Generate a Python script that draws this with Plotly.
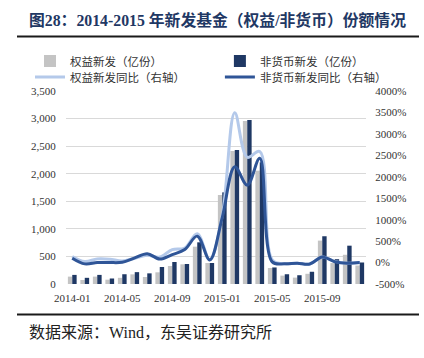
import plotly.graph_objects as go

months = ["2014-01","2014-02","2014-03","2014-04","2014-05","2014-06","2014-07","2014-08",
          "2014-09","2014-10","2014-11","2014-12","2015-01","2015-02","2015-03","2015-04",
          "2015-05","2015-06","2015-07","2015-08","2015-09","2015-10","2015-11","2015-12"]
tick_labels = ["2014-01","2014-05","2014-09","2015-01","2015-05","2015-09"]

equity_new = [134, 73, 134, 78, 112, 175, 127, 212, 326, 357, 677, 381,
              1614, 2412, 2956, 2055, 290, 152, 116, 185, 787, 380, 530, 335]
nonmoney_new = [165, 112, 165, 100, 177, 215, 193, 308, 399, 363, 756, 381,
                1662, 2430, 2974, 2206, 300, 177, 159, 222, 866, 450, 695, 390]
equity_yoy = [141, 24, 86, 79, 39, 102, 170, 128, 302, 340, 671, 66,
              1100, 3493, 2455, 2590, 60, -30, -15, -35, 130, 27, -15, 0]
nonmoney_yoy = [102, -31, 0, 0, 8, 110, 207, 81, 184, 302, 616, 60,
                1050, 2236, 1804, 2432, 15, -30, -15, -35, 130, 20, -15, 0]

left_ticks = [0, 500, 1000, 1500, 2000, 2500, 3000, 3500]
right_ticks = [-500, 0, 500, 1000, 1500, 2000, 2500, 3000, 3500, 4000]
right_text = [f"{v}%" for v in right_ticks]

CJK = "Noto Sans CJK SC"
SERIF = "Liberation Serif"
LEG_FONT = dict(family=f"{SERIF}, {CJK}", size=11.5, color="#333333")

fig = go.Figure()
fig.add_trace(go.Bar(x=months, y=equity_new, name="权益新发（亿份）", showlegend=True,
                     marker=dict(color="#C4C4C4", line=dict(width=0)), legend="legend"))
fig.add_trace(go.Bar(x=months, y=nonmoney_new, name="非货币新发（亿份）", showlegend=True,
                     marker=dict(color="#1F3864", line=dict(width=0)), legend="legend2"))
fig.add_trace(go.Scatter(x=months, y=equity_yoy, name="权益新发同比（右轴）", yaxis="y2", showlegend=True,
                         mode="lines", line=dict(color="#B4C9EA", width=3, shape="spline", smoothing=1),
                         legend="legend3"))
fig.add_trace(go.Scatter(x=months, y=nonmoney_yoy, name="非货币新发同比（右轴）", yaxis="y2", showlegend=True,
                         mode="lines", line=dict(color="#2F5597", width=3, shape="spline", smoothing=1),
                         legend="legend4"))

def leg(x, y):
    return dict(x=x, y=y, xanchor="left", yanchor="middle", orientation="h",
                font=LEG_FONT, bgcolor="rgba(0,0,0,0)", borderwidth=0, visible=True)

def py(pix):
    return (284 - pix) / 193

def px(pix):
    return (pix - 66) / 300

fig.update_layout(
    width=424, height=358,
    showlegend=True,
    margin=dict(l=66, r=58, t=91, b=74, autoexpand=False),
    paper_bgcolor="white", plot_bgcolor="white",
    barmode="group", bargap=0.3, bargroupgap=0,
    legend=leg(-0.12, py(61)),
    legend2=leg(0.513, py(61)),
    legend3=leg(-0.12, py(77)),
    legend4=leg(0.513, py(77)),
    xaxis=dict(type="category", tickmode="array", tickvals=tick_labels, ticktext=tick_labels,
               showgrid=False, showline=False, ticks="outside", ticklen=4, tickcolor="rgba(0,0,0,0)",
               tickfont=dict(family=SERIF, size=11, color="#333333")),
    yaxis=dict(range=[0, 3500], tickvals=left_ticks, tickformat=",", showgrid=True,
               gridcolor="#D9D9D9", gridwidth=1, zeroline=False, showline=False,
               ticks="outside", ticklen=7, tickcolor="rgba(0,0,0,0)",
               tickfont=dict(family=SERIF, size=11, color="#333333")),
    yaxis2=dict(range=[-500, 4000], tickmode="array", tickvals=right_ticks, ticktext=right_text,
                overlaying="y", side="right", showgrid=False, zeroline=False, showline=False,
                ticks="outside", ticklen=6, tickcolor="rgba(0,0,0,0)",
                tickfont=dict(family=SERIF, size=11, color="#333333")),
    annotations=[
        dict(text="<b>图28：2014-2015 年新发基金（权益/非货币）份额情况</b>",
             xref="paper", yref="paper", x=px(27), y=py(20),
             xanchor="left", yanchor="middle", showarrow=False,
             font=dict(family=f"{SERIF}, {CJK}", size=15.8, color="#1F3864")),
        # rule under the title, drawn as a thin filled annotation box
        dict(text=" ", xref="paper", yref="paper", x=px(17), y=py(36.5),
             xanchor="left", yanchor="middle", showarrow=False,
             width=400, height=1, bgcolor="#1a1a1a", borderpad=0, borderwidth=0,
             font=dict(size=1, color="#1a1a1a")),
        dict(text="数据来源：Wind，东吴证券研究所",
             xref="paper", yref="paper", x=px(27), y=py(332),
             xanchor="left", yanchor="middle", showarrow=False,
             font=dict(family=f"{SERIF}, {CJK}", size=16, color="#222222")),
    ],
    shapes=[
        dict(type="line", xref="paper", yref="paper", layer="above",
             x0=px(17), x1=px(419), y0=py(36.5), y1=py(36.5), line=dict(color="#1a1a1a", width=2)),
        dict(type="rect", xref="paper", yref="paper", layer="above",
             x0=px(17), x1=px(419), y0=py(315.5), y1=py(313.5),
             fillcolor="#1a1a1a", line=dict(width=0)),
    ],
)

fig.write_html("out.html", config={"displayModeBar": False},
               post_script="document.body.style.margin='0';")
